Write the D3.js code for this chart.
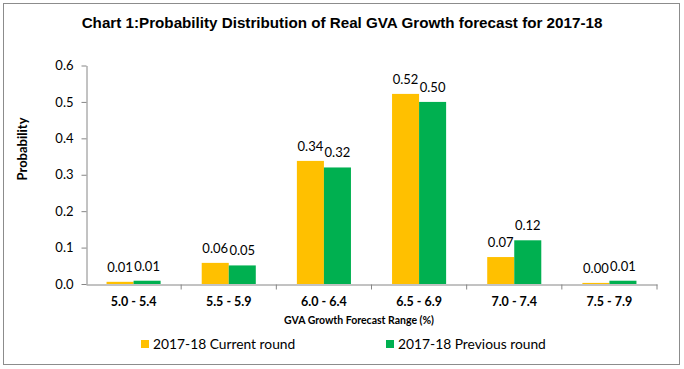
<!DOCTYPE html>
<html>
<head>
<meta charset="utf-8">
<script src="https://cdn.jsdelivr.net/npm/d3@7"></script>
<style>
  body { margin: 0; background: #fff; }
  svg { display: block; }
</style>
</head>
<body>
<div id="chart"></div>
<script>
const ranges = ['5.0 - 5.4', '5.5 - 5.9', '6.0 - 6.4', '6.5 - 6.9', '7.0 - 7.4', '7.5 - 7.9']
const currentRound = [0.006, 0.058, 0.338, 0.522, 0.074, 0.003]
const previousRound = [0.009, 0.051, 0.32, 0.5, 0.12, 0.009]
const seriesNames = ['2017-18 Current round', '2017-18 Previous round']
const seriesColors = ['#FFC000', '#00B050']
const yTicks = [0, 0.1, 0.2, 0.3, 0.4, 0.5, 0.6]

const width = 684
const height = 369
const labelFont = 'Lato, "Open Sans", sans-serif'

const svg = d3.select('#chart')
  .append('svg')
  .attr('width', width)
  .attr('height', height)

// outer frame
svg.append('rect')
  .attr('x', 3.5).attr('y', 3.5)
  .attr('width', 676).attr('height', 361)
  .attr('fill', '#fff')
  .attr('stroke', '#8c8c8c')
  .attr('stroke-width', 1)

svg.append('text')
  .attr('x', 342).attr('y', 28)
  .attr('text-anchor', 'middle')
  .style('font-family', '"Liberation Sans", Arial, sans-serif')
  .style('font-weight', 'bold')
  .style('font-size', '15.2px')
  .text('Chart 1:Probability Distribution of Real GVA Growth forecast for 2017-18')

const x0 = d3.scaleBand().domain(ranges).range([86, 657]).paddingInner(0).paddingOuter(0)
const x1 = d3.scaleBand().domain([0, 1]).range([0, x0.bandwidth()]).paddingOuter(0.76).paddingInner(0)
const y = d3.scaleLinear().domain([0, 0.6]).range([284, 65.5])

const axisColor = '#868686'

// y axis
const yAxis = svg.append('g')
  .attr('transform', 'translate(86.5,0)')
  .call(d3.axisLeft(y).tickValues(yTicks).tickFormat(d3.format('.1f')).tickSize(5).tickSizeOuter(0))
yAxis.select('.domain').attr('stroke', axisColor)
yAxis.selectAll('.tick line').attr('stroke', axisColor)
yAxis.selectAll('.tick text')
  .attr('x', -13)
  .attr('fill', '#000')
  .style('font-family', labelFont)
  .style('font-size', '13px')

// bars
const groups = svg.append('g')
  .selectAll('g')
  .data(ranges.map((r, i) => ({ range: r, values: [currentRound[i], previousRound[i]] })))
  .join('g')
  .attr('transform', d => `translate(${x0(d.range)},0)`)

groups.selectAll('rect')
  .data(d => d.values.map((v, k) => ({ k, v })))
  .join('rect')
  .attr('x', d => x1(d.k))
  .attr('width', x1.bandwidth())
  .attr('y', d => y(d.v))
  .attr('height', d => y(0) - y(d.v))
  .attr('fill', d => seriesColors[d.k])

groups.selectAll('text')
  .data(d => d.values.map((v, k) => ({ k, v })))
  .join('text')
  .attr('x', d => x1(d.k) + x1.bandwidth() / 2)
  .attr('y', d => y(d.v) - 10)
  .attr('text-anchor', 'middle')
  .style('font-family', labelFont)
  .style('font-size', '13px')
  .text(d => d3.format('.2f')(d.v))

// x axis
const xAxis = svg.append('g')
  .attr('transform', 'translate(0,284.5)')
  .call(d3.axisBottom(x0).tickSize(0).tickSizeOuter(0))
xAxis.select('.domain').attr('stroke', axisColor)
xAxis.selectAll('.tick line').remove()
xAxis.selectAll('.tick text')
  .attr('dy', 0)
  .attr('y', 21)
  .attr('fill', '#000')
  .style('font-family', labelFont)
  .style('font-weight', 'bold')
  .style('font-size', '12.5px')
// category separators
xAxis.selectAll('.sep')
  .data(ranges)
  .join('line')
  .attr('class', 'sep')
  .attr('x1', d => x0(d) + x0.bandwidth())
  .attr('x2', d => x0(d) + x0.bandwidth())
  .attr('y1', 0).attr('y2', 5)
  .attr('stroke', axisColor)

svg.append('text')
  .attr('x', 359).attr('y', 324)
  .attr('text-anchor', 'middle')
  .style('font-family', labelFont)
  .style('font-weight', 'bold')
  .style('font-size', '10.5px')
  .text('GVA Growth Forecast Range (%)')

svg.append('text')
  .attr('transform', 'translate(27,149) rotate(-90)')
  .attr('text-anchor', 'middle')
  .style('font-family', labelFont)
  .style('font-weight', 'bold')
  .style('font-size', '13px')
  .text('Probability')

// legend
const legendX = [141, 386]
const legend = svg.append('g')
  .selectAll('g')
  .data(seriesNames)
  .join('g')
  .attr('transform', (d, i) => `translate(${legendX[i]},344)`)
legend.append('rect')
  .attr('x', 0).attr('y', -4)
  .attr('width', 8).attr('height', 8)
  .attr('fill', (d, i) => seriesColors[i])
legend.append('text')
  .attr('x', 12).attr('y', 5)
  .style('font-family', labelFont)
  .style('font-size', '13.8px')
  .text(d => d)
</script>
</body>
</html>
